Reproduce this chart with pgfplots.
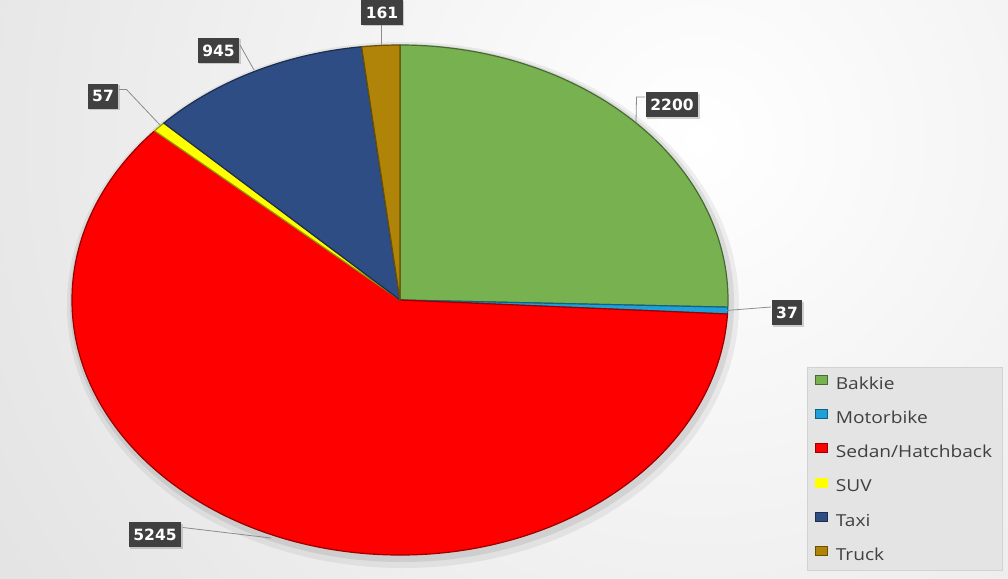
\documentclass[border=0pt]{standalone}
\usepackage{pgfplots}
\pgfplotsset{compat=1.18}
\usepackage{pgfplotstable}
\usepackage{fontspec}
\usetikzlibrary{shadows}
\newfontfamily\labfont{DejaVu Sans}
\newfontfamily\legfont{Open Sans}[FakeStretch=1.16]

\definecolor{cBak}{RGB}{119,177,80}
\definecolor{cMot}{RGB}{30,160,216}
\definecolor{cSed}{RGB}{255,0,0}
\definecolor{cSUV}{RGB}{255,255,0}
\definecolor{cTaxi}{RGB}{46,77,132}
\definecolor{cTruck}{RGB}{176,132,8}
\definecolor{bgout}{RGB}{205,205,205}
\definecolor{labbg}{RGB}{64,64,64}
\definecolor{legtext}{RGB}{64,64,64}
\definecolor{legbg}{RGB}{228,228,228}

% vehicle counts, clockwise from twelve o'clock
\pgfplotstableread{
name value col
Bakkie 2200 cBak
Motorbike 37 cMot
Sedan/Hatchback 5245 cSed
SUV 57 cSUV
Taxi 945 cTaxi
Truck 161 cTruck
}\pietable

\begin{document}
\begin{tikzpicture}[
  dlab/.style={fill=labbg, text=white, font=\labfont\bfseries\fontsize{15.5bp}{18bp}\selectfont,
    inner xsep=4.5bp, inner ysep=0bp, minimum height=25bp, text height=11.5bp, text depth=0bp,
    drop shadow={opacity=0.35, shadow xshift=1.5bp, shadow yshift=-1.5bp}},
  lead/.style={draw=gray!90, line width=0.8bp}]

\pgfplotstablegetrowsof{\pietable}
\pgfmathtruncatemacro\nlast{\pgfplotsretval-1}
\def\total{0}
\pgfplotsforeachungrouped \i in {0,...,\nlast}{%
  \pgfplotstablegetelem{\i}{value}\of\pietable
  \pgfmathsetmacro\total{\total+\pgfplotsretval}}

\begin{axis}[
  scale only axis, width=1008bp, height=578bp,
  xmin=0, xmax=1008, ymin=0, ymax=578, y dir=reverse,
  axis lines=none, clip=false,
  legend image code/.code={\draw[#1, line width=0.6bp] (0bp,-0.5bp) rectangle (12bp,8.5bp);},
  legend cell align=left,
  legend style={at={(0.8006,0.365)}, anchor=north west, draw=gray!35, fill=legbg,
    font=\legfont\fontsize{16.5bp}{19bp}\selectfont, text=legtext,
    row sep=18bp, column sep=6bp, inner xsep=8bp, inner ysep=7.5bp,
    nodes={inner xsep=2bp, inner ysep=0bp, text height=13bp, text depth=2bp}},
]
\coordinate (bl) at (rel axis cs:0,0);
\coordinate (tr) at (rel axis cs:1,1);

% background
\fill[bgout] (axis cs:0,0) rectangle (axis cs:1008,578);
\begin{scope}
\clip (axis cs:0,0) rectangle (axis cs:1008,578);
\shade[inner color=white, outer color=bgout] (axis cs:700,140) circle (1500bp);
\end{scope}

% soft shadow under the pie
\fill[black, opacity=0.06] (axis cs:403,305) ellipse [x radius=336bp, y radius=263bp];
\fill[black, opacity=0.08] (axis cs:402,303) ellipse [x radius=332bp, y radius=259bp];

% wedges
\def\acur{90}
\pgfplotsforeachungrouped \i in {0,...,\nlast}{%
  \pgfplotstablegetelem{\i}{value}\of\pietable \let\pv\pgfplotsretval
  \pgfplotstablegetelem{\i}{col}\of\pietable \let\colr\pgfplotsretval
  \pgfmathsetmacro\anext{\acur-(\pv/\total)*360}
  \edef\temp{\noexpand\filldraw[fill=\colr, draw=\colr!60!black, line width=1.2bp, line join=round]
    (axis cs:400,300) -- ([shift={(\acur:328bp and 255bp)}]axis cs:400,300)
    arc[start angle=\acur, end angle=\anext, x radius=328bp, y radius=255bp] -- cycle;}
  \temp
  \let\acur\anext
}

\addlegendimage{fill=cBak, draw=cBak!60!black}\addlegendentry{Bakkie}
\addlegendimage{fill=cMot, draw=cMot!60!black}\addlegendentry{Motorbike}
\addlegendimage{fill=cSed, draw=cSed!60!black}\addlegendentry{Sedan/Hatchback}
\addlegendimage{fill=cSUV, draw=cSUV}\addlegendentry{SUV}
\addlegendimage{fill=cTaxi, draw=cTaxi!60!black}\addlegendentry{Taxi}
\addlegendimage{fill=cTruck, draw=cTruck!60!black}\addlegendentry{Truck}

% data labels with leader lines
\draw[lead] (axis cs:645,97) -- (axis cs:636.5,97) -- (axis cs:636,122);
\node[dlab] at (axis cs:672,104.5) {2200};
\draw[lead] (axis cs:771,307) -- (axis cs:726,310.5);
\node[dlab] at (axis cs:787,312.5) {37};
\draw[lead] (axis cs:271,538) -- (axis cs:183,527.5);
\node[dlab] at (axis cs:155,534.5) {5245};
\draw[lead] (axis cs:160,125) -- (axis cs:126.5,89.5) -- (axis cs:119,89.5);
\node[dlab] at (axis cs:103,96) {57};
\draw[lead] (axis cs:254,70) -- (axis cs:240,45);
\node[dlab] at (axis cs:218.5,50.5) {945};
\draw[lead] (axis cs:381,45) -- (axis cs:381,24);
\node[dlab] at (axis cs:382,12.5) {161};
\end{axis}
\pgfresetboundingbox
\path[use as bounding box] (bl) rectangle (tr);
\end{tikzpicture}
\end{document}
